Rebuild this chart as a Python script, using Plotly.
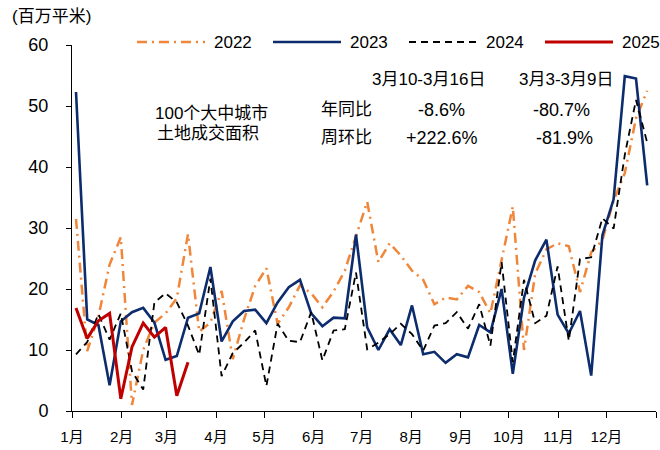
import plotly.graph_objects as go
import pandas as pd

# ---------------- data (million m², weekly) ----------------
week_dates = pd.date_range("2023-01-03 12:00", periods=52, freq="7D")

v2022 = [31.5, 9.8, 15.5, 24.0, 28.5, 1.0, 10.0, 14.5, 16.0, 18.5,
         29.0, 13.0, 14.5, 19.7, 8.5, 15.0, 20.5, 23.4, 14.3, 17.0,
         20.6, 19.3, 17.0, 19.6, 23.0, 28.8, 34.3, 24.4, 27.5, 25.5,
         23.0, 21.5, 17.5, 18.6, 18.3, 20.5, 19.5, 16.0, 25.0, 33.5,
         10.0, 22.5, 26.5, 27.5, 27.0, 19.5, 26.0, 28.0, 34.5, 39.0,
         48.0, 52.5]
v2023 = [52.3, 15.0, 14.1, 4.2, 14.7, 16.2, 16.9, 14.5, 8.4, 9.0,
         15.3, 16.0, 23.6, 11.4, 14.7, 16.4, 16.6, 14.4, 17.8, 20.3,
         21.5, 16.0, 13.9, 15.3, 15.2, 28.9, 13.7, 10.0, 13.4, 10.8,
         17.3, 9.3, 9.7, 7.9, 9.3, 8.8, 14.1, 12.9, 20.0, 6.1,
         18.6, 24.7, 28.1, 15.8, 12.7, 16.4, 5.8, 28.8, 34.7, 54.9,
         54.5, 37.0]
v2024 = [9.3, 11.3, 15.9, 11.7, 16.0, 6.5, 3.5, 17.8, 19.3, 17.8,
         14.0, 9.2, 21.7, 5.7, 9.5, 11.2, 13.2, 4.1, 14.3, 11.5,
         11.3, 16.2, 8.3, 13.2, 13.4, 22.7, 10.1, 11.2, 12.6, 14.3,
         12.6, 9.9, 14.0, 14.4, 16.2, 13.5, 17.5, 10.7, 24.4, 8.0,
         21.5, 14.4, 15.6, 23.7, 11.5, 24.9, 25.2, 31.6, 29.9, 42.0,
         51.0, 44.0]
v2025 = [16.9, 11.9, 14.8, 16.0, 2.0, 10.5, 14.4, 12.1, 13.7, 2.5, 8.0]

month_ticks = pd.date_range("2023-01-01", periods=13, freq="MS")
month_labels = [f"{m}月" for m in range(1, 13)] + [""]
y_ticks = [0, 10, 20, 30, 40, 50, 60]

series = [
    ("2022", v2022, "#F0863A", 2.5, "10px,5px,2px,5px"),
    ("2023", v2023, "#0C2C6E", 2.6, "solid"),
    ("2024", v2024, "#000000", 1.8, "7px,5px"),
    ("2025", v2025, "#C00000", 3.0, "solid"),
]

LAT = "Liberation Sans, Arial, Noto Sans CJK SC, sans-serif"
CJK = "Liberation Sans, Noto Sans CJK SC, sans-serif"

fig = go.Figure()
for name, vals, color, w, dash in series:
    fig.add_trace(go.Scatter(
        x=week_dates[:len(vals)], y=vals, mode="lines", name=name,
        line=dict(color=color, width=w, dash=dash), showlegend=False))

# plot area geometry in pixels (for text placement)
L, R, T, B = 72, 656, 45, 411
def px(x):
    return (x - L) / (R - L)
def py(y):
    return (B - y) / (B - T)

shapes = []
annotations = []
# manual legend (long line samples like the reference)
leg_y = 42
leg_x0 = [137, 273, 409, 545]
for (name, vals, color, w, dash), x0 in zip(series, leg_x0):
    shapes.append(dict(type="line", xref="paper", yref="paper",
                       x0=px(x0), x1=px(x0 + 68), y0=py(leg_y), y1=py(leg_y),
                       line=dict(color=color, width=w, dash=dash)))
    annotations.append(dict(text=name, xref="paper", yref="paper",
                            x=px(x0 + 75), y=py(leg_y), xanchor="left",
                            yanchor="middle", showarrow=False,
                            font=dict(family=LAT, size=17, color="#000")))

def add_text(t, x, y, anchor="center", size=17, fam=CJK):
    annotations.append(dict(text=t, xref="paper", yref="paper",
                            x=px(x), y=py(y), xanchor=anchor, yanchor="middle",
                            showarrow=False,
                            font=dict(family=fam, size=size, color="#000")))

add_text("(百万平米)", 10, 16, anchor="left", size=17)
add_text("100个大中城市", 153, 113, anchor="left", size=17)
add_text("土地成交面积", 155, 133, anchor="left", size=17)
add_text("3月10-3月16日", 428, 79, size=17)
add_text("3月3-3月9日", 566, 79, size=17)
add_text("年同比", 346, 110, size=17)
add_text("周环比", 346, 137.5, size=17)
add_text("-8.6%", 441.5, 110, size=18, fam=LAT)
add_text("-80.7%", 561, 110, size=18, fam=LAT)
add_text("+222.6%", 442, 137.5, size=18, fam=LAT)
add_text("-81.9%", 564, 137.5, size=18, fam=LAT)

fig.update_layout(
    width=660, height=450,
    margin=dict(l=L, r=660 - R, t=T, b=450 - B),
    paper_bgcolor="white", plot_bgcolor="white",
    shapes=shapes, annotations=annotations,
    font=dict(family=CJK, color="#000"),
    xaxis=dict(
        type="date", range=[month_ticks[0], month_ticks[-1]],
        tickmode="array", tickvals=month_ticks, ticktext=month_labels,
        showgrid=False, zeroline=False, showline=True,
        linecolor="#000", linewidth=1, ticks="outside", ticklen=6,
        tickcolor="#000", tickfont=dict(family=CJK, size=15, color="#000"),
        ticklabelstandoff=6),
    yaxis=dict(
        range=[0, 60], tickmode="array", tickvals=y_ticks,
        showgrid=False, zeroline=False, showline=True,
        linecolor="#000", linewidth=1, ticks="outside", ticklen=5,
        tickcolor="#000", tickfont=dict(family=LAT, size=18, color="#000"),
        ticklabelstandoff=14),
)

fig.write_html("out.html", config={"displayModeBar": False},
               post_script="document.body.style.margin='0';document.body.style.overflow='hidden';")
